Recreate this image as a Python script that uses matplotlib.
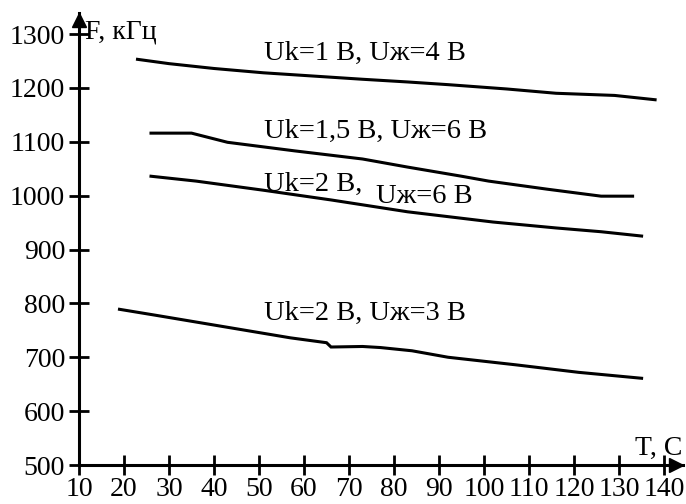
import numpy as np
import matplotlib.pyplot as plt

plt.rcParams['font.family'] = ['Liberation Serif', 'DejaVu Serif']

# Данные: T (C) и F (кГц)
t1 = [23, 30, 40, 51, 62, 73, 83, 92, 105, 116, 129, 138]
f1 = [1253, 1245, 1236, 1228, 1222, 1216, 1211, 1206, 1198, 1190, 1186, 1178]

t2 = [26, 35, 43, 58, 73, 83, 95, 101, 114, 126, 133]
f2 = [1116, 1116, 1099, 1083, 1068, 1053, 1036, 1027, 1012, 999, 999]

t3 = [26, 36, 51, 66, 83, 102, 116, 126, 135]
f3 = [1036, 1027, 1010, 992, 970, 951, 940, 933, 925]

t4 = [19, 27, 42, 57, 65, 66, 73, 77, 84, 92, 107, 121, 135]
f4 = [789, 778, 757, 736, 727, 719, 720, 718, 712, 700, 686, 672, 661]

curves = [(t1, f1), (t2, f2), (t3, f3), (t4, f4)]

xticks = list(range(10, 141, 10))
yticks = list(range(500, 1301, 100))

labels = [
    (51, 1264, 'Uk=1 В, Uж=4 В'),
    (51, 1119, 'Uk=1,5 В, Uж=6 В'),
    (51, 1020, 'Uk=2 В,'),
    (76, 998, 'Uж=6 В'),
    (51, 781, 'Uk=2 В, Uж=3 В'),
]

W, H = 686, 504
fig = plt.figure(figsize=(W / 100, H / 100), dpi=100)
ax = fig.add_axes([79 / W, 39 / H, 604 / W, 452 / H])
ax.set_xlim(10, 144.2)
ax.set_ylim(500, 1339)

for t, f in curves:
    ax.plot(t, f, color='black', lw=2.2, solid_joinstyle='miter')

fs = 20
for x, y, s in labels:
    ax.text(x, y, s, fontsize=20.5, va='center', ha='left')

# оси со стрелками
for side in ['top', 'right']:
    ax.spines[side].set_visible(False)
for side in ['left', 'bottom']:
    ax.spines[side].set_linewidth(2.2)
ax.plot([10], [1326], marker='^', color='black', markersize=10, clip_on=False)
ax.plot([142.7], [500], marker='>', color='black', markersize=10, clip_on=False)

ax.set_xticks(xticks)
ax.set_yticks(yticks)
ax.tick_params(direction='inout', length=14, width=2, labelsize=fs, pad=2)
ax.tick_params(axis='y', pad=3)

ax.text(11.4, 1303, 'F, кГц', fontsize=fs, va='center', ha='left')
ax.text(144, 507, 'T, C', fontsize=fs, va='bottom', ha='right')

fig.savefig('out.png', dpi=100)
